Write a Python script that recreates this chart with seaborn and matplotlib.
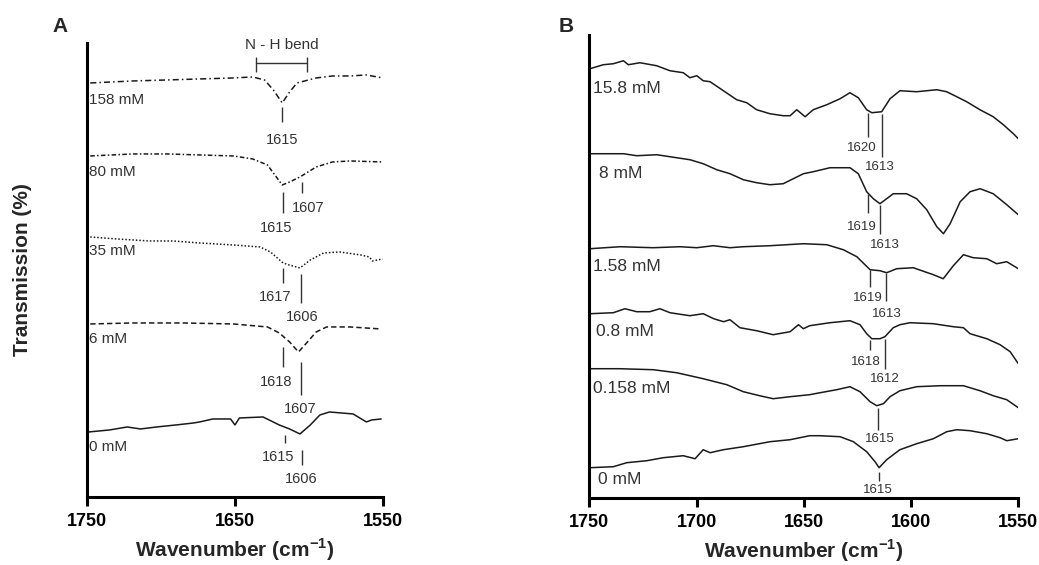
import matplotlib
matplotlib.use("Agg")
import matplotlib.pyplot as plt
import pandas as pd
import seaborn as sns

# ---- Panel A: spectra (wavenumber in cm-1, transmission in arbitrary units) ----
a158_wn = [1748, 1719, 1696, 1674, 1651, 1638, 1630, 1624, 1618, 1613, 1608, 1595, 1584, 1572, 1561, 1550]
a158_t = [414, 416, 417, 418, 419, 420, 417, 407, 394, 405, 414, 419, 421, 421, 422, 419]

a80_wn = [1748, 1719, 1696, 1674, 1651, 1638, 1628, 1622, 1618, 1613, 1606, 1595, 1584, 1572, 1550]
a80_t = [341, 343, 343, 342, 341, 338, 332, 320, 312, 315, 320, 330, 335, 336, 335]

a35_wn = [1748, 1730, 1708, 1692, 1674, 1651, 1633, 1626, 1617.5, 1611, 1606, 1599, 1590, 1579, 1565, 1559, 1557, 1550]
a35_t = [260, 258, 256, 256, 254, 252, 250, 245, 234, 231, 229, 237, 244, 245, 242, 240, 236, 238]

a6_wn = [1748, 1719, 1685, 1651, 1628, 1620, 1613, 1607, 1601.5, 1595, 1588, 1572, 1551]
a6_t = [173, 174, 174, 173, 170, 164, 155, 145, 154, 165, 170, 170, 168]

a0_wn = [1749, 1735, 1723, 1714, 1703, 1690, 1678, 1674, 1665, 1653, 1650, 1647, 1631, 1620, 1613, 1606,
         1599, 1592.5, 1586, 1570, 1561, 1557.5, 1551]
a0_t = [65, 67, 70, 68, 70, 72, 74, 75, 78, 78, 72, 79, 80, 72, 68, 63, 72, 82, 85, 83, 75, 77, 78]

# ---- Panel B ----
b158_wn = [1749.7, 1743.5, 1738.8, 1734.1, 1731.8, 1726.4, 1718.6, 1712.4, 1706.2, 1703.1, 1699.9, 1696.9,
           1693.7, 1687.5, 1681.3, 1676.6, 1672.0, 1665.8, 1659.6, 1656.4, 1653.3, 1649.4, 1645.6, 1639.3,
           1633.1, 1628.5, 1624.6, 1620.7, 1618.3, 1613.7, 1609.8, 1605.2, 1597.4, 1588.0, 1583.4, 1578.7,
           1574.1, 1567.9, 1561.7, 1557.0, 1552.3, 1550.0]
b158_t = [429, 433, 434, 437, 433, 435, 432, 427, 425, 420, 422, 417, 416, 407, 398, 395, 388, 384, 382,
          382, 388, 381, 388, 393, 399, 405, 400, 388, 385, 386, 399, 407, 406, 408, 406, 401, 396, 388,
          381, 373, 364, 359]

b8_wn = [1749.7, 1738.8, 1734.1, 1727.9, 1718.6, 1712.4, 1703.1, 1696.9, 1690.6, 1684.4, 1678.2, 1672.0,
         1665.8, 1659.6, 1654.9, 1650.2, 1645.6, 1637.8, 1628.5, 1624.6, 1620.7, 1617.6, 1614.5, 1611.4,
         1608.3, 1602.1, 1597.4, 1592.7, 1588.0, 1584.9, 1581.8, 1577.1, 1572.5, 1567.8, 1561.7, 1555.4, 1550.0]
b8_t = [344, 344, 344, 342, 343, 341, 338, 334, 328, 324, 318, 315, 313, 314, 319, 324, 326, 330, 330,
        324, 306, 299, 294, 299, 304, 304, 299, 288, 271, 264, 274, 296, 306, 309, 304, 293, 283]

b1_58_wn = [1749.7, 1735.7, 1720.2, 1707.7, 1699.9, 1692.2, 1684.4, 1678.2, 1665.8, 1650.2, 1639.3, 1631.6,
            1625.3, 1619.1, 1614.5, 1611.4, 1606.7, 1599.0, 1589.6, 1585.0, 1580.3, 1575.6, 1571.0, 1564.7,
            1560.1, 1555.4, 1550.0]
b1_58_t = [249, 251, 250, 251, 250, 252, 250, 251, 252, 254, 253, 248, 241, 228, 227, 225, 229, 230, 223,
           219, 232, 243, 240, 239, 234, 236, 229]

b0_8_wn = [1749.7, 1738.8, 1733.4, 1727.9, 1721.8, 1717.1, 1712.4, 1703.1, 1696.9, 1692.0, 1687.4, 1684.4,
           1679.8, 1672.0, 1664.3, 1656.4, 1652.5, 1650.2, 1647.3, 1637.8, 1628.5, 1623.8, 1620.7, 1618.3,
           1614.5, 1612.2, 1608.3, 1605.2, 1600.5, 1589.6, 1580.3, 1575.6, 1572.5, 1564.7, 1558.5, 1553.8, 1550.0]
b0_8_t = [184, 185, 189, 186, 186, 189, 185, 182, 184, 179, 176, 178, 170, 167, 163, 166, 173, 169, 172,
          175, 177, 173, 164, 159, 159, 161, 170, 173, 175, 174, 171, 170, 164, 159, 153, 146, 134]

b0_158_wn = [1749.7, 1735.7, 1720.2, 1709.3, 1696.9, 1685.9, 1678.2, 1670.6, 1664.3, 1656.4, 1647.3, 1642.4,
             1634.7, 1628.5, 1623.8, 1619.1, 1616.0, 1612.9, 1609.8, 1605.2, 1597.4, 1586.5, 1575.6, 1567.9,
             1561.7, 1555.4, 1550.0]
b0_158_t = [129, 129, 128, 125, 119, 113, 106, 102, 99, 101, 103, 105, 108, 111, 106, 96, 92, 94, 101,
            107, 111, 112, 112, 107, 102, 98, 90]

b0_wn = [1749.7, 1738.8, 1732.6, 1723.2, 1715.5, 1706.2, 1700.7, 1696.9, 1693.7, 1687.5, 1678.2, 1665.8,
         1656.4, 1647.3, 1642.5, 1633.1, 1626.9, 1620.7, 1616.8, 1614.9, 1611.4, 1605.2, 1597.4, 1589.6,
         1583.4, 1578.7, 1572.5, 1564.7, 1558.5, 1555.4, 1550.0]
b0_t = [30, 31, 35, 37, 40, 42, 39, 48, 45, 48, 51, 56, 58, 62, 62, 61, 56, 46, 36, 30, 38, 48, 54, 59,
        66, 68, 67, 64, 60, 57, 59]

# concentration labels: (text, wavenumber, transmission)
a_names = [("158 mM", 1748.8, 397), ("80 mM", 1748.8, 325), ("35 mM", 1748.8, 246),
           ("6 mM", 1748.8, 158), ("0 mM", 1748.8, 50)]
b_names = [("15.8 mM", 1748.1, 409), ("8 mM", 1745.3, 324), ("1.58 mM", 1748.1, 231),
           ("0.8 mM", 1746.9, 166), ("0.158 mM", 1748.1, 109), ("0 mM", 1745.8, 18)]

# peak marks: (label, tick wavenumber, tick top, tick bottom, label wavenumber, label y)
a_peaks = [("1615", 1618.2, 390, 375, 1618.2, 357),
           ("1615", 1617.7, 305, 284, 1622.3, 269),
           ("1607", 1604.9, 315, 304, 1600.4, 289),
           ("1617", 1617.7, 229, 214, 1622.9, 200),
           ("1606", 1605.3, 223, 194, 1604.8, 180),
           ("1618", 1617.7, 150, 130, 1622.3, 115),
           ("1607", 1605.3, 135, 102, 1606.0, 88),
           ("1615", 1616.0, 62, 54, 1620.7, 40),
           ("1606", 1604.9, 47, 32, 1605.3, 18)]
b_peaks = [("1620", 1620.2, 385, 361, 1623.0, 350),
           ("1613", 1613.7, 384, 341, 1614.5, 331),
           ("1619", 1620.0, 304, 285, 1623.0, 271),
           ("1613", 1614.5, 293, 264, 1612.2, 253),
           ("1619", 1619.1, 228, 211, 1620.0, 200),
           ("1613", 1611.7, 225, 197, 1611.1, 184),
           ("1618", 1619.1, 158, 148, 1621.1, 136),
           ("1612", 1612.2, 159, 129, 1612.2, 119),
           ("1615", 1615.6, 90, 68, 1614.5, 59),
           ("1615", 1614.8, 26, 17, 1615.3, 8)]

sns.set_style("white")
plt.rcParams["font.family"] = ["Liberation Sans", "DejaVu Sans"]
plt.rcParams["mathtext.fontset"] = "custom"
plt.rcParams["mathtext.rm"] = "Liberation Sans"
plt.rcParams["mathtext.bf"] = "Liberation Sans:bold"

INK = "#1a1a1a"
GREY = "#333333"


def draw_curve(ax, wn, t, ls):
    df = pd.DataFrame({"wn": wn, "t": t})
    sns.lineplot(data=df, x="wn", y="t", ax=ax, estimator=None, sort=False,
                 color=INK, linewidth=1.1, linestyle=ls)


def style_axes(ax, top):
    ax.set_xlim(1750, 1550)
    ax.set_ylim(0, top)
    for side in ["top", "right"]:
        ax.spines[side].set_visible(False)
    for side in ["left", "bottom"]:
        ax.spines[side].set_linewidth(2.2)
        ax.spines[side].set_color("black")
    ax.set_yticks([])
    ax.tick_params(axis="x", direction="out", length=6.5, width=2.2, pad=5,
                   labelsize=13, colors="black", bottom=True)
    ax.set_ylabel("")
    ax.set_xlabel("Wavenumber (cm$^{\\mathbf{-1}}$)", fontsize=15, fontweight="bold", labelpad=5)


def mark_peaks(ax, peaks, fs):
    for text, twn, y0, y1, lwn, ly in peaks:
        ax.vlines(twn, y1, y0, color=GREY, linewidth=1.0)
        ax.text(lwn, ly, text, ha="center", va="center", fontsize=fs, color=GREY)


fig = plt.figure(figsize=(10.39, 5.65), dpi=100)
axA = fig.add_axes([0.0840, 0.1204, 0.2843, 0.8041])
axB = fig.add_axes([0.5672, 0.1191, 0.4129, 0.8189])

# Panel A
draw_curve(axA, a158_wn, a158_t, (0, (4, 2, 1, 2)))
draw_curve(axA, a80_wn, a80_t, (0, (3, 1.5, 1, 1.5)))
draw_curve(axA, a35_wn, a35_t, (0, (1, 1.3)))
draw_curve(axA, a6_wn, a6_t, (0, (3.5, 2)))
draw_curve(axA, a0_wn, a0_t, "-")
style_axes(axA, 454.3)
axA.set_xticks([1750, 1650, 1550])
for lab in axA.get_xticklabels():
    lab.set_fontweight("bold")
for text, wn, y in a_names:
    axA.text(wn, y, text, ha="left", va="center", fontsize=11, color=GREY)
mark_peaks(axA, a_peaks, 10.5)

# N-H bend bracket
axA.plot([1635.8, 1601.3], [434, 434], color=GREY, linewidth=1.0, clip_on=False)
axA.vlines([1635.8, 1601.3], 425, 440, color=GREY, linewidth=1.0, clip_on=False)
axA.text(1618.2, 452, "N - H bend", ha="center", va="center", fontsize=11, color=GREY)

# Panel B
draw_curve(axB, b158_wn, b158_t, "-")
draw_curve(axB, b8_wn, b8_t, "-")
draw_curve(axB, b1_58_wn, b1_58_t, "-")
draw_curve(axB, b0_8_wn, b0_8_t, "-")
draw_curve(axB, b0_158_wn, b0_158_t, "-")
draw_curve(axB, b0_wn, b0_t, "-")
style_axes(axB, 462.7)
axB.set_xticks([1750, 1700, 1650, 1600, 1550])
for lab in axB.get_xticklabels():
    lab.set_fontweight("bold")
for text, wn, y in b_names:
    axB.text(wn, y, text, ha="left", va="center", fontsize=12.5, color=GREY)
mark_peaks(axB, b_peaks, 9.5)

fig.text(23 / 1039, 1 - 270 / 565, "Transmission (%)", rotation=90, ha="center", va="center",
         fontsize=15, fontweight="bold")
fig.text(60 / 1039, 1 - 27 / 565, "A", ha="center", va="center", fontsize=15, fontweight="bold")
fig.text(566 / 1039, 1 - 26 / 565, "B", ha="center", va="center", fontsize=15, fontweight="bold")

fig.savefig("out.png", dpi=100)
